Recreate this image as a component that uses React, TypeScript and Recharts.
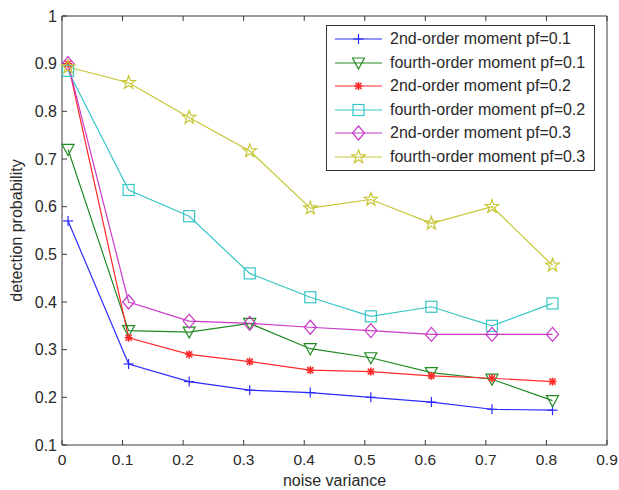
import React from 'react';
import { LineChart, Line, XAxis, YAxis } from 'recharts';

// noise variance sample points
const noiseVariance = [0.01, 0.11, 0.21, 0.31, 0.41, 0.51, 0.61, 0.71, 0.81];

// detection probability
const secondPf01 = [0.57, 0.27, 0.233, 0.215, 0.21, 0.2, 0.19, 0.175, 0.173];
const fourthPf01 = [0.72, 0.34, 0.337, 0.355, 0.302, 0.283, 0.252, 0.238, 0.193];
const secondPf02 = [0.9, 0.325, 0.29, 0.275, 0.257, 0.254, 0.245, 0.24, 0.233];
const fourthPf02 = [0.885, 0.635, 0.58, 0.46, 0.41, 0.37, 0.39, 0.35, 0.397];
const secondPf03 = [0.9, 0.4, 0.36, 0.355, 0.347, 0.34, 0.332, 0.332, 0.332];
const fourthPf03 = [0.893, 0.86, 0.787, 0.717, 0.597, 0.615, 0.565, 0.6, 0.477];

const xTicks = [0, 0.1, 0.2, 0.3, 0.4, 0.5, 0.6, 0.7, 0.8, 0.9];
const yTicks = [0.1, 0.2, 0.3, 0.4, 0.5, 0.6, 0.7, 0.8, 0.9, 1];

type MarkerKind = 'plus' | 'triangle' | 'asterisk' | 'square' | 'diamond' | 'star';

const SERIES: { key: string; name: string; values: number[]; color: string; marker: MarkerKind }[] = [
  { key: 's1', name: '2nd-order moment pf=0.1', values: secondPf01, color: '#2a2aff', marker: 'plus' },
  { key: 's2', name: 'fourth-order moment pf=0.1', values: fourthPf01, color: '#228b22', marker: 'triangle' },
  { key: 's3', name: '2nd-order moment pf=0.2', values: secondPf02, color: '#ff2a2a', marker: 'asterisk' },
  { key: 's4', name: 'fourth-order moment pf=0.2', values: fourthPf02, color: '#38c6c6', marker: 'square' },
  { key: 's5', name: '2nd-order moment pf=0.3', values: secondPf03, color: '#c83ac8', marker: 'diamond' },
  { key: 's6', name: 'fourth-order moment pf=0.3', values: fourthPf03, color: '#c6c634', marker: 'star' },
];

const chartData = noiseVariance.map((x, i) => {
  const row: Record<string, number> = { x };
  SERIES.forEach((s) => {
    row[s.key] = s.values[i];
  });
  return row;
});

const FONT = 'Liberation Sans, Arial, Helvetica, sans-serif';
const AXIS_COLOR = '#3a3a3a';
const TEXT_COLOR = '#2a2a2a';

function starPoints(cx: number, cy: number, r: number) {
  const pts: string[] = [];
  for (let i = 0; i < 10; i++) {
    const rad = i % 2 === 0 ? r : r * 0.4;
    const a = -Math.PI / 2 + (i * Math.PI) / 5;
    pts.push(`${cx + rad * Math.cos(a)},${cy + rad * Math.sin(a)}`);
  }
  return pts.join(' ');
}

function Marker({ kind, cx, cy, color }: { kind: MarkerKind; cx: number; cy: number; color: string }) {
  const common = { stroke: color, strokeWidth: 1.2, fill: 'none' };
  switch (kind) {
    case 'plus':
      return (
        <g {...common}>
          <line x1={cx - 5} y1={cy} x2={cx + 5} y2={cy} />
          <line x1={cx} y1={cy - 5} x2={cx} y2={cy + 5} />
        </g>
      );
    case 'triangle':
      return <polygon {...common} points={`${cx - 6},${cy - 5} ${cx + 6},${cy - 5} ${cx},${cy + 6}`} />;
    case 'asterisk':
      return (
        <g {...common} strokeWidth={1.6}>
          <line x1={cx - 4} y1={cy} x2={cx + 4} y2={cy} />
          <line x1={cx} y1={cy - 4} x2={cx} y2={cy + 4} />
          <line x1={cx - 3} y1={cy - 3} x2={cx + 3} y2={cy + 3} />
          <line x1={cx - 3} y1={cy + 3} x2={cx + 3} y2={cy - 3} />
        </g>
      );
    case 'square':
      return <rect {...common} x={cx - 5.5} y={cy - 5.5} width={11} height={11} />;
    case 'diamond':
      return <polygon {...common} points={`${cx},${cy - 7} ${cx + 6},${cy} ${cx},${cy + 7} ${cx - 6},${cy}`} />;
    case 'star':
      return <polygon {...common} points={starPoints(cx, cy, 7)} />;
  }
  return null;
}

function LegendBox() {
  return (
    <div
      style={{
        position: 'absolute',
        left: 326,
        top: 25,
        width: 269,
        height: 146,
        border: '1px solid #333',
        background: '#fff',
        boxSizing: 'border-box',
        fontFamily: FONT,
        fontSize: 16,
        paddingTop: 1.5,
      }}
    >
      {SERIES.map((s) => (
        <div key={s.key} style={{ display: 'flex', alignItems: 'center', height: 23.5 }}>
          <svg width={63} height={20} style={{ flexShrink: 0 }}>
            <line x1={8} y1={10} x2={55} y2={10} stroke={s.color} strokeWidth={1.2} />
            <Marker kind={s.marker} cx={31.5} cy={10} color={s.color} />
          </svg>
          <span style={{ color: TEXT_COLOR, whiteSpace: 'nowrap' }}>{s.name}</span>
        </div>
      ))}
    </div>
  );
}

const emptyTick = () => <g />;
const fmt = (v: number) => String(Math.round(v * 10) / 10);

export default function App() {
  return (
    <div style={{ position: 'absolute', left: 0, top: 0, width: 619, height: 490, background: '#fff' }}>
      <LineChart
        width={619}
        height={490}
        data={chartData}
        margin={{ top: 10, right: 6, bottom: 15, left: 8 }}
        style={{ fontFamily: FONT }}
      >
        <XAxis
          xAxisId="main"
          dataKey="x"
          type="number"
          domain={[0, 0.9]}
          ticks={xTicks}
          interval={0}
          stroke={AXIS_COLOR}
          tickSize={-5}
          tickMargin={14}
          height={30}
          tick={{ fill: TEXT_COLOR, fontSize: 15.5 }}
          tickFormatter={fmt}
          label={{ value: 'noise variance', position: 'insideBottom', offset: -11, fill: TEXT_COLOR, fontSize: 16 }}
        />
        <XAxis
          xAxisId="top"
          orientation="top"
          dataKey="x"
          type="number"
          domain={[0, 0.9]}
          ticks={xTicks}
          interval={0}
          stroke={AXIS_COLOR}
          tickSize={-5}
          tick={emptyTick}
          height={6}
        />
        <YAxis
          yAxisId="main"
          type="number"
          domain={[0.1, 1]}
          ticks={yTicks}
          interval={0}
          stroke={AXIS_COLOR}
          tickSize={-5}
          tickMargin={10}
          width={54}
          tick={{ fill: TEXT_COLOR, fontSize: 16 }}
          tickFormatter={fmt}
          label={{
            value: 'detection probability',
            angle: -90,
            position: 'insideLeft',
            offset: 8,
            fill: TEXT_COLOR,
            fontSize: 16,
            style: { textAnchor: 'middle' },
          }}
        />
        <YAxis
          yAxisId="right"
          orientation="right"
          type="number"
          domain={[0.1, 1]}
          ticks={yTicks}
          interval={0}
          stroke={AXIS_COLOR}
          tickSize={-5}
          tick={emptyTick}
          width={6}
        />
        {SERIES.map((s) => (
          <Line
            key={s.key}
            xAxisId="main"
            yAxisId="main"
            dataKey={s.key}
            name={s.name}
            type="linear"
            stroke={s.color}
            strokeWidth={1.2}
            isAnimationActive={false}
            dot={(p: any) => <Marker key={`${s.key}-${p.index}`} kind={s.marker} cx={p.cx} cy={p.cy} color={s.color} />}
            activeDot={false}
          />
        ))}
      </LineChart>
      <LegendBox />
    </div>
  );
}
